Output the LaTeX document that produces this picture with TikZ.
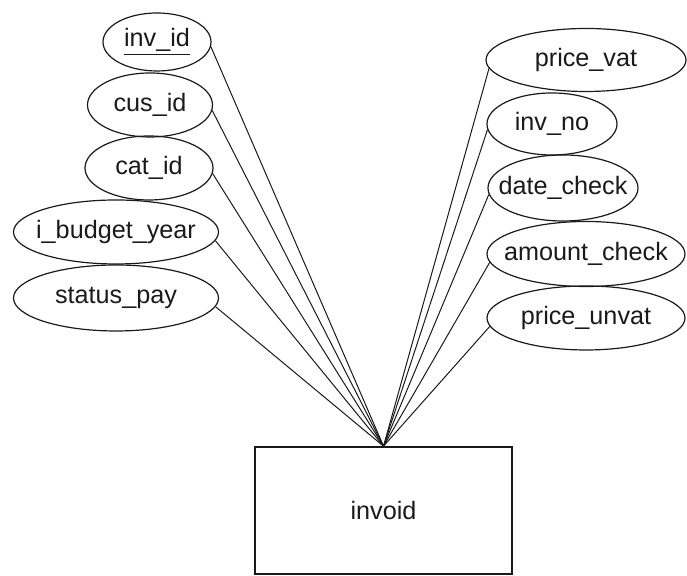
\documentclass[tikz,border=0pt]{standalone}
\usepackage{fontspec}
\setmainfont{Liberation Sans}
\usepackage{tikz}
\usetikzlibrary{shapes.geometric}
\definecolor{inkgray}{HTML}{1A1A1A}

\tikzset{
    attr/.style={
        ellipse,
        draw=inkgray,
        line width=0.6pt,
        inner sep=0pt,
        font=\fontsize{12.6}{14}\selectfont,
        text=inkgray
    },
    entity/.style={
        rectangle,
        draw=inkgray,
        line width=0.8pt,
        minimum width=128.5pt,
        minimum height=63.5pt,
        font=\fontsize{12.6}{14}\selectfont,
        text=inkgray
    },
    link/.style={draw=inkgray, line width=0.5pt}
}
\newcommand{\attrlabel}[1]{\makebox[0pt]{#1}}

\begin{document}
\begin{tikzpicture}[x=0.5pt, y=0.5pt]
    \useasboundingbox (0,0) rectangle (687,576);

    % Entity
    \node[entity] (invoid) at (383.5,65.5) {invoid};

    % Attributes, left column
    \node[attr, minimum width=54pt, minimum height=29pt] (invid) at (157,534) {\attrlabel{\underline{inv\_id}}};
    \node[attr, minimum width=62.5pt, minimum height=32pt] (cusid) at (150,471) {\attrlabel{cus\_id}};
    \node[attr, minimum width=64pt, minimum height=32pt] (catid) at (149,408) {\attrlabel{cat\_id}};
    \node[attr, minimum width=102.5pt, minimum height=32pt] (budget) at (116,344) {\attrlabel{i\_budget\_year}};
    \node[attr, minimum width=102.5pt, minimum height=33pt] (status) at (116,278) {\attrlabel{status\_pay}};

    % Attributes, right column
    \node[attr, minimum width=100pt, minimum height=31.5pt] (pricevat) at (586,516) {\attrlabel{price\_vat}};
    \node[attr, minimum width=65pt, minimum height=31pt] (invno) at (552,452) {\attrlabel{inv\_no}};
    \node[attr, minimum width=75pt, minimum height=33pt] (datecheck) at (563,388) {\attrlabel{date\_check}};
    \node[attr, minimum width=99pt, minimum height=32.5pt] (amountcheck) at (586,322) {\attrlabel{amount\_check}};
    \node[attr, minimum width=99pt, minimum height=32pt] (priceunvat) at (586,258) {\attrlabel{price\_unvat}};

    % Links
    \foreach \a in {invid,cusid,catid,budget,status}
        \draw[link] (\a.-5) -- (invoid.north);
    \foreach \a in {pricevat,invno,datecheck,amountcheck,priceunvat}
        \draw[link] (\a.185) -- (invoid.north);
\end{tikzpicture}
\end{document}
